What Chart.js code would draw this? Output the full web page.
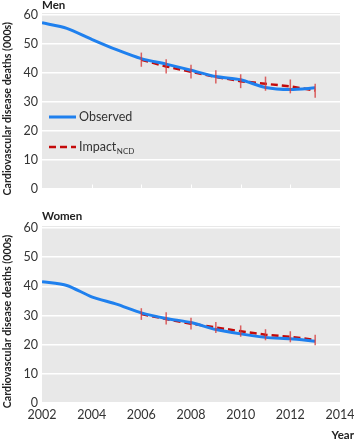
<!DOCTYPE html>
<html>
<head>
<meta charset="utf-8">
<script src="https://cdn.jsdelivr.net/npm/chart.js@4/dist/chart.umd.min.js"></script>
<style>
	body { margin: 0; background: #fff; }
	canvas { display: block; }
</style>
</head>
<body>
<canvas id="men" width="354" height="200"></canvas>
<canvas id="women" width="354" height="240"></canvas>
<script>
const years = [2002, 2003, 2004, 2005, 2006, 2007, 2008, 2009, 2010, 2011, 2012, 2013];
const impactYears = [2006, 2007, 2008, 2009, 2010, 2011, 2012, 2013];
const xTicks = [2002, 2004, 2006, 2008, 2010, 2012, 2014];
const yTicks = [0, 10, 20, 30, 40, 50, 60];

const menObserved = [57.3, 55.4, 51.6, 48.0, 44.9, 43.0, 40.9, 38.7, 37.6, 34.9, 34.2, 34.8];
const menImpact = [44.5, 42.2, 40.4, 38.6, 37.1, 36.2, 35.3, 33.9];
const menLow = [42.1, 39.8, 38.0, 36.3, 34.7, 33.8, 32.9, 31.4];
const menHigh = [47.0, 44.7, 42.8, 40.9, 39.5, 38.7, 37.7, 36.2];

const womenObserved = [41.6, 40.3, 36.4, 33.9, 30.9, 29.0, 27.6, 25.2, 23.7, 22.5, 22.0, 21.2];
const womenImpact = [30.5, 28.8, 27.2, 25.9, 24.6, 23.4, 22.7, 21.6];
const womenLow = [28.5, 26.9, 25.2, 24.0, 22.7, 21.5, 20.8, 19.8];
const womenHigh = [32.5, 31.1, 29.2, 27.8, 26.6, 25.3, 24.6, 23.4];

const blue = "#1f80ee";
const red = "#c40a0a";
const textColor = "#333";
const fontFamily = "Lato, 'Open Sans', sans-serif";

const points = function(xs, ys) {
	return xs.map((x, i) => ({x: x, y: ys[i]}));
}

// gray panel, titles, error bars, legend
const panelPlugin = {
	id: "panel",
	beforeDraw(chart, args, opts) {
		const {ctx, chartArea: a} = chart;
		ctx.save();
		ctx.fillStyle = "#e8e8e8";
		ctx.fillRect(a.left, a.top - 2, a.right - a.left, a.bottom - a.top + 2);
		ctx.restore();
	},
	afterDraw(chart, args, opts) {
		const {ctx, chartArea: a} = chart;
		const x = chart.scales.x;
		ctx.save();
		ctx.textAlign = "left";
		ctx.textBaseline = "alphabetic";
		ctx.font = "bold 11.5px " + fontFamily;
		ctx.fillStyle = "#222";
		ctx.fillText(opts.title, a.left, a.top - opts.titleGap);

		// rotated y title
		ctx.translate(opts.yTitleX, (a.top + a.bottom) / 2 + opts.yTitleShift);
		ctx.rotate(-Math.PI / 2);
		ctx.textAlign = "center";
		ctx.textBaseline = "middle";
		ctx.font = "bold 10.7px " + fontFamily;
		ctx.fillText("Cardiovascular disease deaths (000s)", 0, 0);
		ctx.restore();

		if (opts.ticks) {
			ctx.save();
			ctx.strokeStyle = "#fff";
			ctx.lineWidth = 1;
			for (let t of xTicks.slice(1, -1)) {
				const px = Math.round(x.getPixelForValue(t)) + 0.5;
				ctx.beginPath();
				ctx.moveTo(px, a.bottom - 4);
				ctx.lineTo(px, a.bottom);
				ctx.stroke();
			}
			ctx.restore();
		}
		if (opts.year) {
			ctx.save();
			ctx.font = "bold 11.5px " + fontFamily;
			ctx.fillStyle = "#222";
			ctx.textAlign = "right";
			ctx.fillText("Year", chart.width, chart.height - 1);
			ctx.restore();
		}
		if (opts.legend) {
			const ds = chart.data.datasets;
			const lx = 49, lw = 27;
			const rows = [[117, ds[0], "Observed", ""], [147, ds[1], "Impact", "NCD"]];
			ctx.save();
			for (let [ly, d, label, sub] of rows) {
				ctx.strokeStyle = d.borderColor;
				ctx.lineWidth = d.borderWidth;
				ctx.setLineDash(d.borderDash || []);
				ctx.beginPath();
				ctx.moveTo(lx, ly);
				ctx.lineTo(lx + lw, ly);
				ctx.stroke();
				ctx.setLineDash([]);
				ctx.fillStyle = textColor;
				ctx.textBaseline = "middle";
				ctx.textAlign = "left";
				ctx.font = "12.5px " + fontFamily;
				ctx.fillText(label, lx + lw + 3, ly);
				if (sub) {
					const w = ctx.measureText(label).width;
					ctx.font = "8px " + fontFamily;
					ctx.fillText(sub, lx + lw + 3 + w + 0.5, ly + 4);
				}
			}
			ctx.restore();
		}
	},
	afterDatasetsDraw(chart) {
		const {ctx} = chart;
		const x = chart.scales.x, y = chart.scales.y;
		ctx.save();
		ctx.strokeStyle = "rgba(214, 60, 60, 0.8)";
		ctx.lineWidth = 1.5;
		for (let d of chart.data.datasets) {
			if (!d.errorBars) continue;
			d.data.forEach((p, i) => {
				const px = x.getPixelForValue(p.x);
				ctx.beginPath();
				ctx.moveTo(px, y.getPixelForValue(d.errorBars.low[i]));
				ctx.lineTo(px, y.getPixelForValue(d.errorBars.high[i]));
				ctx.stroke();
			});
		}
		ctx.restore();
	}
};

const makeChart = function(canvas, {observed, impact, low, high, showX, xHeight, padTop, panel}) {
	return new Chart(canvas.getContext("2d"), {
		type: "line",
		data: {
			datasets: [
				{
					label: "Observed",
					data: points(years, observed),
					borderColor: blue,
					borderWidth: 3,
					pointRadius: 0,
					tension: 0.25,
					fill: false
				},
				{
					label: "Impact NCD",
					data: points(impactYears, impact),
					borderColor: red,
					borderWidth: 2.5,
					borderDash: [7, 4],
					pointRadius: 0,
					tension: 0,
					fill: false,
					errorBars: {low: low, high: high}
				}
			]
		},
		options: {
			responsive: false,
			devicePixelRatio: 1,
			animation: false,
			layout: {padding: {top: padTop, right: 14, left: 0, bottom: 0}},
			scales: {
				x: {
					type: "linear",
					min: 2002,
					max: 2014,
					afterBuildTicks: (s) => { s.ticks = xTicks.map(v => ({value: v})); },
					afterFit: (s) => { s.height = xHeight; },
					ticks: {
						display: showX,
						color: textColor,
						padding: -4,
						font: {family: fontFamily, size: 12.5},
						callback: (v) => String(v)
					},
					grid: {display: false},
					border: {display: false}
				},
				y: {
					min: 0,
					max: 60,
					afterBuildTicks: (s) => { s.ticks = yTicks.map(v => ({value: v})); },
					afterFit: (s) => { s.width = 42; },
					ticks: {
						color: textColor,
						padding: 4,
						font: {family: fontFamily, size: 12.5}
					},
					grid: {color: "#fff", lineWidth: 1.5, drawTicks: false},
					border: {display: false}
				}
			},
			plugins: {
				legend: {display: false},
				tooltip: {enabled: false},
				panel: panel
			}
		},
		plugins: [panelPlugin]
	});
}

makeChart(document.getElementById("men"), {
	observed: menObserved, impact: menImpact, low: menLow, high: menHigh,
	showX: false, xHeight: 10, padTop: 15,
	panel: {title: "Men", titleGap: 6, yTitleX: 8, yTitleShift: 7, ticks: true, legend: true, year: false}
});

makeChart(document.getElementById("women"), {
	observed: womenObserved, impact: womenImpact, low: womenLow, high: womenHigh,
	showX: true, xHeight: 37, padTop: 28,
	panel: {title: "Women", titleGap: 8, yTitleX: 8, yTitleShift: 6, ticks: false, legend: false, year: true}
});
</script>
</body>
</html>
